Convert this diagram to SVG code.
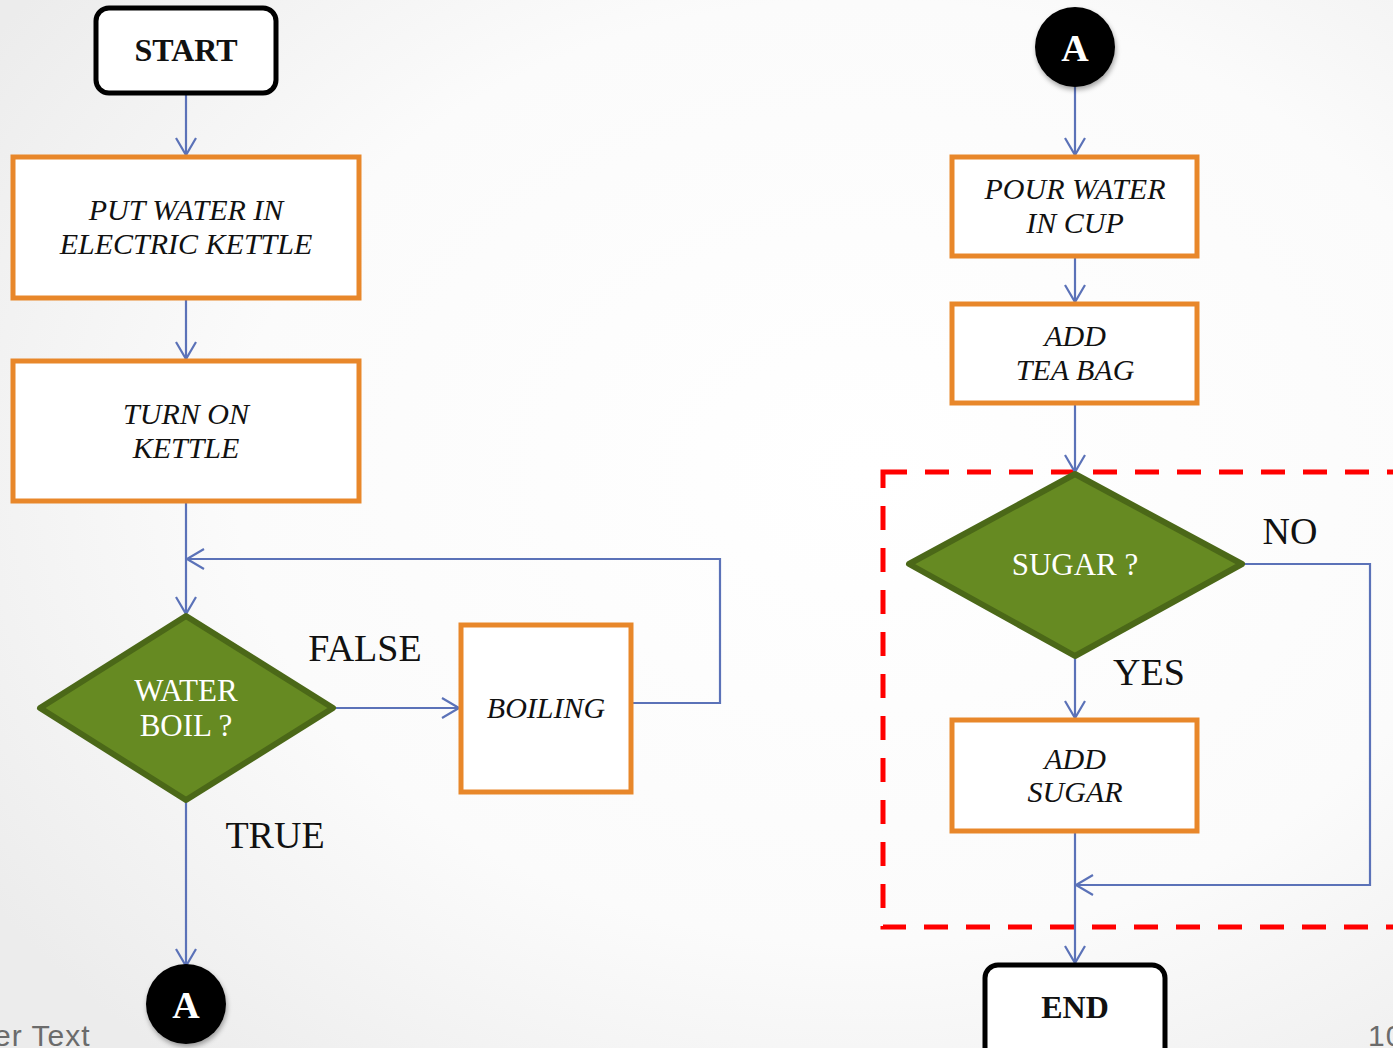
<svg xmlns="http://www.w3.org/2000/svg" width="1393" height="1048" viewBox="0 0 1393 1048">
  <defs>
    <radialGradient id="bg" cx="0.62" cy="0.45" r="0.75">
      <stop offset="0" stop-color="#ffffff"/>
      <stop offset="0.6" stop-color="#fbfbfb"/>
      <stop offset="1" stop-color="#ececec"/>
    </radialGradient>
    <marker id="arrow" markerUnits="userSpaceOnUse" markerWidth="24" markerHeight="24" viewBox="0 0 24 24" refX="19" refY="12" orient="auto">
      <path d="M2,2 L19,12 L2,22" fill="none" stroke="#5B72B8" stroke-width="2.2"/>
    </marker>
    <filter id="shadow" x="-30%" y="-30%" width="160%" height="160%">
      <feDropShadow dx="1" dy="3" stdDeviation="2.5" flood-color="#000" flood-opacity="0.35"/>
    </filter>
    <style>
      .term { fill: #ffffff; stroke: #000000; stroke-width: 5; }
      .proc { fill: #ffffff; stroke: #E8872A; stroke-width: 5; }
      .dec { fill: #668A22; stroke: #4B6818; stroke-width: 6; stroke-linejoin: round; }
      .conn { fill: #000000; filter: url(#shadow); }
      .edge { fill: none; stroke: #5B72B8; stroke-width: 2.2; }
      .ptxt { font-family: "Liberation Serif", "DejaVu Serif", serif; font-style: italic; font-size: 30px; fill: #111; text-anchor: middle; }
      .dtxt { font-family: "Liberation Serif", "DejaVu Serif", serif; font-size: 31px; fill: #ffffff; text-anchor: middle; }
      .ttxt { font-family: "Liberation Serif", "DejaVu Serif", serif; font-weight: bold; font-size: 32px; fill: #111; text-anchor: middle; }
      .ctxt { font-family: "Liberation Serif", "DejaVu Serif", serif; font-weight: bold; font-size: 38px; fill: #ffffff; text-anchor: middle; }
      .lbl { font-family: "Liberation Serif", "DejaVu Serif", serif; font-size: 38px; fill: #111; text-anchor: middle; }
      .foot { font-family: "Liberation Sans", "DejaVu Sans", sans-serif; font-size: 30px; letter-spacing: 1px; fill: #6b6b6b; }
    </style>
  </defs>

  <rect x="0" y="0" width="1393" height="1048" fill="url(#bg)"/>

  <!-- footer texts, running off the page edges -->
  <text class="foot" x="-6" y="1046">er Text</text>
  <text class="foot" x="1368" y="1046">10</text>

  <!-- dashed boundary around the sugar choice -->
  <rect x="883" y="472" width="540" height="455" fill="none" stroke="#FF0000" stroke-width="5" stroke-dasharray="24 18"/>

  <g id="connectors">
    <line class="edge" x1="186" y1="93" x2="186" y2="155" marker-end="url(#arrow)"/>
    <line class="edge" x1="186" y1="298" x2="186" y2="359" marker-end="url(#arrow)"/>
    <line class="edge" x1="186" y1="501" x2="186" y2="614" marker-end="url(#arrow)"/>
    <line class="edge" x1="333" y1="708" x2="459" y2="708" marker-end="url(#arrow)"/>
    <polyline class="edge" points="632,703 720,703 720,559 187,559" marker-end="url(#arrow)"/>
    <line class="edge" x1="186" y1="800" x2="186" y2="966" marker-end="url(#arrow)"/>

    <line class="edge" x1="1075" y1="87" x2="1075" y2="155" marker-end="url(#arrow)"/>
    <line class="edge" x1="1075" y1="256" x2="1075" y2="302" marker-end="url(#arrow)"/>
    <line class="edge" x1="1075" y1="403" x2="1075" y2="472" marker-end="url(#arrow)"/>
    <line class="edge" x1="1075" y1="656" x2="1075" y2="718" marker-end="url(#arrow)"/>
    <polyline class="edge" points="1242,564 1370,564 1370,885 1076,885" marker-end="url(#arrow)"/>
    <line class="edge" x1="1075" y1="831" x2="1075" y2="963" marker-end="url(#arrow)"/>
  </g>

  <!-- branch labels -->
  <text class="lbl" x="365" y="661">FALSE</text>
  <text class="lbl" x="275" y="848">TRUE</text>
  <text class="lbl" x="1290" y="544">NO</text>
  <text class="lbl" x="1149" y="685">YES</text>

  <g id="start">
    <rect class="term" x="96" y="8" width="180" height="85" rx="13"/>
    <text class="ttxt" x="186" y="61">START</text>
  </g>

  <g id="put-water">
    <rect class="proc" x="13" y="157" width="346" height="141"/>
    <text class="ptxt" x="186" y="220">PUT WATER IN</text>
    <text class="ptxt" x="186" y="254">ELECTRIC KETTLE</text>
  </g>

  <g id="turn-on">
    <rect class="proc" x="13" y="361" width="346" height="140"/>
    <text class="ptxt" x="186" y="424">TURN ON</text>
    <text class="ptxt" x="186" y="458">KETTLE</text>
  </g>

  <g id="water-boil">
    <polygon class="dec" points="186,616 333,708 186,800 40,708"/>
    <text class="dtxt" x="186" y="701">WATER</text>
    <text class="dtxt" x="186" y="736">BOIL ?</text>
  </g>

  <g id="boiling">
    <rect class="proc" x="461" y="625" width="170" height="167"/>
    <text class="ptxt" x="546" y="718">BOILING</text>
  </g>

  <g id="connector-a-out">
    <circle class="conn" cx="186" cy="1004" r="40"/>
    <text class="ctxt" x="186" y="1018">A</text>
  </g>

  <g id="connector-a-in">
    <circle class="conn" cx="1075" cy="47" r="40"/>
    <text class="ctxt" x="1075" y="61">A</text>
  </g>

  <g id="pour-water">
    <rect class="proc" x="952" y="157" width="245" height="99"/>
    <text class="ptxt" x="1075" y="199">POUR WATER</text>
    <text class="ptxt" x="1075" y="233">IN CUP</text>
  </g>

  <g id="add-tea-bag">
    <rect class="proc" x="952" y="304" width="245" height="99"/>
    <text class="ptxt" x="1075" y="346">ADD</text>
    <text class="ptxt" x="1075" y="380">TEA BAG</text>
  </g>

  <g id="sugar">
    <polygon class="dec" points="1075,474 1242,564 1075,656 909,564"/>
    <text class="dtxt" x="1075" y="575">SUGAR ?</text>
  </g>

  <g id="add-sugar">
    <rect class="proc" x="952" y="720" width="245" height="111"/>
    <text class="ptxt" x="1075" y="769">ADD</text>
    <text class="ptxt" x="1075" y="802">SUGAR</text>
  </g>

  <g id="end">
    <rect class="term" x="985" y="965" width="180" height="100" rx="13"/>
    <text class="ttxt" x="1075" y="1018">END</text>
  </g>
</svg>
